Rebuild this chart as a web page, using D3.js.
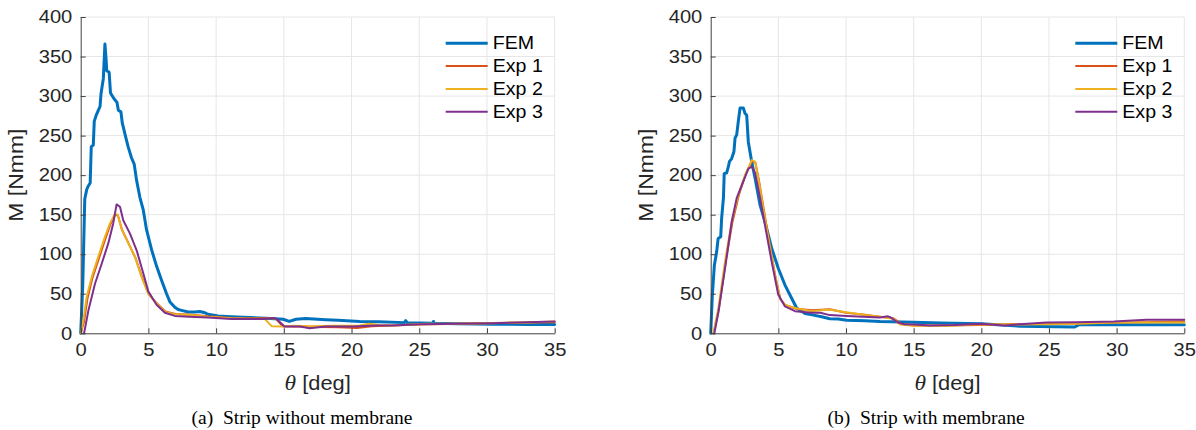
<!DOCTYPE html>
<html>
<head>
<meta charset="utf-8">
<script src="https://cdn.jsdelivr.net/npm/d3@7"></script>
<style>
  html, body { margin: 0; padding: 0; background: #fff; }
  svg { display: block; }
</style>
</head>
<body>
<svg id="chart" width="1196" height="430"></svg>
<script>
// ---------- DATA ----------
const seriesNames = ["FEM", "Exp 1", "Exp 2", "Exp 3"];
const xTicks = [0, 5, 10, 15, 20, 25, 30, 35];
const yTicks = [0, 50, 100, 150, 200, 250, 300, 350, 400];
const captions = ["(a)\u00A0\u00A0Strip without membrane", "(b)\u00A0\u00A0Strip with membrane"];

// Panel (a): strip without membrane  [theta (deg), M (Nmm)]
const femA = [[0,0],[0.15,60],[0.3,170],[0.45,182],[0.55,186],[0.7,190],[0.78,236],[0.93,238],[1.0,268],[1.15,276],[1.3,282],[1.43,287],[1.5,303],[1.67,322],[1.79,366],[1.88,345],[1.92,332],[2.1,330],[2.2,304],[2.45,297],[2.68,292],[2.78,282],[2.97,280],[3.07,266],[3.27,252],[3.5,236],[3.75,222],[3.95,214],[4.12,194],[4.37,172],[4.62,156],[4.86,131],[5.23,106],[5.6,85],[5.97,67],[6.34,50],[6.58,40],[6.95,33],[7.2,30],[7.44,29],[7.94,27],[8.43,27],[8.8,27.5],[9.17,26],[9.4,24],[10.15,22],[11.1,21],[12.5,20],[13.7,19],[14.95,17.8],[15.4,15],[15.9,17.8],[16.6,18.6],[18.1,17.2],[19,16.5],[20.6,15],[22,14.5],[23.9,13.5],[24,16],[24.1,13.5],[26,12.8],[26.05,15],[26.1,12.8],[27.9,12],[30.4,11.5],[33,11.2],[35,11]];
const exp1A = [[0,0],[0.25,15],[0.5,44],[0.85,69],[1.35,95],[1.85,121],[2.2,138],[2.55,150],[2.75,149],[3.05,131],[3.55,113],[4.05,95],[4.55,70],[5.02,50],[5.5,40],[6.25,27.5],[7,24.5],[8.2,23.5],[9.4,21.5],[11.1,19.5],[12.5,19],[14,19],[14.4,18.5],[14.9,9],[16,8.5],[17.5,8],[19,7.5],[20.4,6.8],[21.5,9],[23,10],[25,11],[28,12],[30.4,13],[33,13.5],[35,14]];
const exp2A = [[0,0],[0.2,17],[0.44,46],[0.81,71],[1.3,97],[1.79,122],[2.16,139],[2.53,151],[2.73,150],[3.02,132],[3.51,114],[4.0,97],[4.5,71],[4.99,50],[5.48,40],[6.22,27],[6.95,24],[8.2,23],[9.4,21],[11.1,19],[12.5,18.5],[13.6,18],[14.1,9],[15.0,8.5],[15.7,9.4],[17,9],[18.5,9.5],[20.6,9.8],[21.3,12],[22,10.5],[23,10],[25.5,12],[28,12.2],[30.4,12.8],[33,13.8],[35,15]];
const exp3A = [[0.25,0],[0.57,29],[1.06,63],[1.55,88],[2.04,114],[2.4,139],[2.65,163],[2.9,160],[3.14,143],[3.64,126],[4.13,105],[4.62,76],[4.99,53],[5.6,36],[6.22,26],[6.95,22],[8,21],[9.4,20],[11.1,18],[12.5,18],[13.6,18],[14.3,19.5],[14.5,17.5],[15.05,8.5],[16.2,8.5],[16.9,6.5],[18.1,8.5],[20.1,8.5],[21.8,9.8],[23,10],[25,11.5],[27.9,12],[30.4,12.8],[32.9,14],[35,15]];

// Panel (b): strip with membrane
const femB = [[0,0],[0.12,48],[0.27,86],[0.44,103],[0.55,120],[0.74,122],[0.81,146],[0.94,171],[1.0,202],[1.18,203],[1.31,211],[1.38,217],[1.55,221],[1.72,230],[1.8,247],[1.92,251],[2.04,268],[2.17,285],[2.41,285],[2.54,278],[2.66,276],[2.78,242],[3.03,217],[3.28,196],[3.65,162],[4.01,141],[4.5,108],[5.0,82],[5.49,61],[5.99,44],[6.35,32],[6.97,25],[7.6,23],[8.2,21],[8.8,18.5],[9.43,18],[10.05,16.4],[11.4,16],[12.5,15],[15,14],[17,13],[20,12],[22.9,9],[26.9,8],[27.2,10.7],[30,10.7],[35,10.7]];
const exp1B = [[0.22,0],[0.6,30],[1.1,90],[1.6,140],[2.1,176],[2.6,202],[3.05,218],[3.3,216],[3.55,195],[3.92,157],[4.3,118],[4.78,72],[5.15,43],[5.5,36],[6.3,31],[7.5,29],[8.8,30.5],[10,26],[11.4,23.5],[12.5,21],[13.5,19],[14.1,12],[15,10],[17.5,10],[20,10.5],[22,11.5],[25,12],[27,12.5],[30,13.5],[35,15]];
const exp2B = [[0.2,0],[0.57,32],[1.06,91],[1.55,141],[2.04,175],[2.54,200],[3.03,219],[3.28,217],[3.52,196],[3.89,158],[4.26,120],[4.75,74],[5.12,44],[5.49,36],[6.23,32],[7.46,28],[8.7,30],[9.9,27],[11.4,23],[12.5,21],[13.5,18.5],[14,11],[15,9.5],[17.5,9.4],[20,11.5],[22,11],[24.8,11.5],[27,12],[29.8,13.7],[35,13.7]];
const exp3B = [[0.27,0],[0.57,27],[1.06,82],[1.55,141],[1.92,171],[2.41,192],[2.78,208],[3.03,211],[3.28,203],[3.65,171],[4.01,137],[4.5,91],[4.99,49],[5.49,34],[6.23,28],[7.46,26],[8.1,26],[8.8,23],[10.05,22],[12.5,20],[13.1,21.5],[13.3,20],[13.8,14],[14.3,11.5],[15,11],[16.2,10],[18,10.5],[20,12],[21.7,10],[24.8,13.7],[27,14],[29.8,15],[32.2,17],[35,17]];

// ---------- STYLE ----------
const colors = ["#0072BD", "#D95319", "#EDB120", "#7E2F8E"];
const widths = [3, 2, 2, 2];
const sansFont = "'Liberation Sans', Arial, Helvetica, sans-serif";
const serifFont = "'Liberation Serif', 'Times New Roman', serif";
const STRETCH = "scale(1.12,1)";

const svg = d3.select("#chart");

const panels = [
  { series: [femA, exp1A, exp2A, exp3A], left: 80.7, right: 554.7, caption: captions[0], capX: 302 },
  { series: [femB, exp1B, exp2B, exp3B], left: 710.7, right: 1184.3, caption: captions[1], capX: 926 }
];
const plotTop = 17, plotBottom = 333.3;

panels.forEach(p => {
  const x = d3.scaleLinear().domain([0, 35]).range([p.left, p.right]);
  const y = d3.scaleLinear().domain([0, 400]).range([plotBottom, plotTop]);
  const g = svg.append("g");

  // grid
  g.append("g").selectAll("line").data(xTicks.filter(d => d > 0)).join("line")
    .attr("x1", d => x(d)).attr("x2", d => x(d)).attr("y1", plotTop).attr("y2", plotBottom)
    .attr("stroke", "#e6e6e6").attr("stroke-width", 1);
  g.append("g").selectAll("line").data(yTicks.filter(d => d > 0)).join("line")
    .attr("x1", p.left).attr("x2", p.right).attr("y1", d => y(d)).attr("y2", d => y(d))
    .attr("stroke", "#e6e6e6").attr("stroke-width", 1);

  // lines
  const line = d3.line().x(d => x(d[0])).y(d => y(d[1]));
  p.series.forEach((s, i) => {
    g.append("path").datum(s).attr("d", line)
      .attr("fill", "none").attr("stroke", colors[i]).attr("stroke-width", widths[i])
      .attr("stroke-linejoin", "round").attr("stroke-linecap", "round");
  });

  // axes
  const xAxis = d3.axisBottom(x).tickValues(xTicks).tickSizeInner(-5).tickSizeOuter(0).tickPadding(10);
  const yAxis = d3.axisLeft(y).tickValues(yTicks).tickSizeInner(-5).tickSizeOuter(0).tickPadding(7.5);
  [g.append("g").attr("transform", `translate(0,${plotBottom})`).call(xAxis),
   g.append("g").attr("transform", `translate(${p.left},0)`).call(yAxis)].forEach(a => {
    a.select(".domain").attr("stroke", "#404040").attr("stroke-width", 1);
    a.selectAll(".tick line").attr("stroke", "#404040");
    a.selectAll("text").attr("font-family", sansFont).attr("font-size", 18)
      .attr("fill", "#262626").attr("transform", STRETCH);
  });

  // y label
  g.append("text")
    .attr("transform", `translate(${p.left - 58},${(plotTop + plotBottom) / 2}) rotate(-90) ${STRETCH}`)
    .attr("text-anchor", "middle").attr("font-family", sansFont).attr("font-size", 20.5)
    .attr("fill", "#262626").text("M [Nmm]");

  // x label
  const xl = g.append("text")
    .attr("transform", `translate(${(p.left + p.right) / 2},390) ${STRETCH}`)
    .attr("text-anchor", "middle").attr("font-size", 19.5).attr("fill", "#262626");
  xl.append("tspan").attr("font-family", serifFont).attr("font-style", "italic").attr("font-size", 21).text("θ");
  xl.append("tspan").attr("font-family", sansFont).text(" [deg]");

  // legend
  const lx = p.right - 109;
  seriesNames.forEach((n, i) => {
    const ly = 43.3 + i * 22.8;
    g.append("line").attr("x1", lx).attr("x2", lx + 42).attr("y1", ly).attr("y2", ly)
      .attr("stroke", colors[i]).attr("stroke-width", widths[i]);
    g.append("text").attr("transform", `translate(${lx + 47},${ly + 6}) ${STRETCH}`)
      .attr("font-family", sansFont).attr("font-size", 17.5).attr("fill", "#000").text(n);
  });

  // caption
  g.append("text").attr("x", p.capX).attr("y", 424)
    .attr("text-anchor", "middle").attr("font-family", serifFont).attr("font-size", 19.5)
    .attr("fill", "#000").text(p.caption);
});
</script>
</body>
</html>
